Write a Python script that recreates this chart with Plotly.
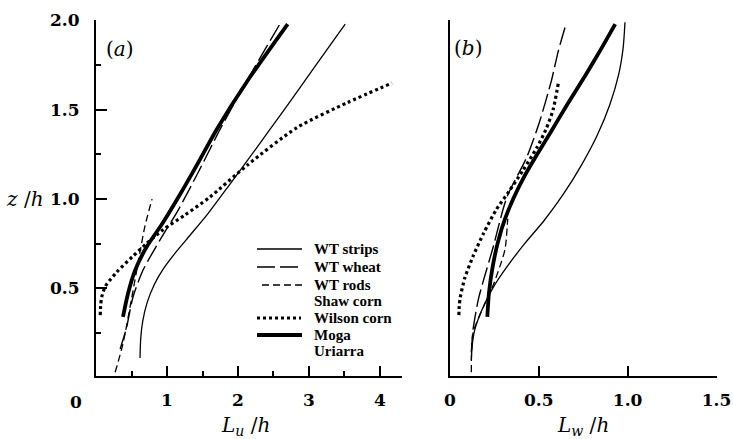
import plotly.graph_objects as go

W, H = 733, 439

# ---------------- data: panel (a)  L_u/h vs z/h ----------------
a_strips_x = [0.62, 0.63, 0.66, 0.72, 0.82, 0.95, 1.12, 1.33, 1.58, 1.88, 2.25, 2.65, 3.08, 3.51]
a_strips_y = [0.11, 0.22, 0.32, 0.42, 0.52, 0.61, 0.70, 0.80, 0.92, 1.08, 1.28, 1.50, 1.74, 1.98]
a_wheat_x = [0.34, 0.43, 0.52, 0.66, 0.90, 1.16, 1.44, 1.76, 2.15, 2.59]
a_wheat_y = [0.16, 0.28, 0.45, 0.60, 0.77, 0.94, 1.15, 1.40, 1.68, 1.98]
a_rods_x = [0.27, 0.38, 0.50, 0.60, 0.69, 0.79]
a_rods_y = [0.03, 0.19, 0.44, 0.66, 0.85, 1.00]
a_wilson_x = [0.06, 0.065, 0.08, 0.13, 0.29, 0.52, 0.71, 0.95, 1.25, 1.60, 2.13, 2.83, 3.54, 4.17]
a_wilson_y = [0.35, 0.40, 0.45, 0.51, 0.59, 0.68, 0.75, 0.83, 0.91, 1.01, 1.19, 1.40, 1.54, 1.65]
a_moga_x = [0.38, 0.45, 0.55, 0.71, 0.93, 1.16, 1.42, 1.70, 2.13, 2.70]
a_moga_y = [0.34, 0.47, 0.60, 0.73, 0.86, 1.01, 1.19, 1.39, 1.66, 1.98]

# ---------------- data: panel (b)  L_w/h vs z/h ----------------
b_strips_x = [0.12, 0.125, 0.14, 0.18, 0.24, 0.32, 0.42, 0.53, 0.64, 0.74, 0.83, 0.90, 0.95, 0.975, 0.985]
b_strips_y = [0.10, 0.18, 0.27, 0.38, 0.50, 0.62, 0.75, 0.88, 1.03, 1.19, 1.36, 1.53, 1.70, 1.85, 1.99]
b_wheat_x = [0.12, 0.13, 0.16, 0.19, 0.24, 0.32, 0.43, 0.50, 0.57, 0.61, 0.65]
b_wheat_y = [0.14, 0.27, 0.44, 0.55, 0.72, 1.01, 1.23, 1.42, 1.66, 1.83, 1.97]
b_rods_x = [0.12, 0.13, 0.19, 0.24, 0.28, 0.31, 0.325]
b_rods_y = [0.03, 0.25, 0.40, 0.51, 0.62, 0.72, 0.89]
b_wilson_x = [0.05, 0.052, 0.058, 0.084, 0.13, 0.19, 0.26, 0.33, 0.41, 0.49, 0.54, 0.58, 0.61]
b_wilson_y = [0.35, 0.40, 0.45, 0.56, 0.68, 0.81, 0.94, 1.04, 1.16, 1.29, 1.39, 1.50, 1.65]
b_moga_x = [0.21, 0.22, 0.24, 0.27, 0.31, 0.36, 0.42, 0.49, 0.57, 0.66, 0.76, 0.85, 0.93]
b_moga_y = [0.34, 0.48, 0.62, 0.76, 0.89, 1.01, 1.13, 1.25, 1.38, 1.53, 1.69, 1.84, 1.98]

# tick labels
a_xticks = [1, 2, 3, 4]
a_xticklabels = ["1", "2", "3", "4"]
a_xminor = [0.5, 1.5, 2.5, 3.5]
yticks = [0.5, 1.0, 1.5, 2.0]
yticklabels = ["0.5", "1.0", "1.5", "2.0"]
a_yminor = [0.25, 0.75, 1.25, 1.75]
b_xticks = [0, 0.5, 1.0, 1.5]
b_xticklabels = ["0", "0.5", "1.0", "1.5"]

legend_labels = ["WT strips", "WT wheat", "WT rods", "Shaw corn", "Wilson corn", "Moga", "Uriarra"]

# ---------------- styles ----------------
styles = {
    "strips": dict(color="black", width=1.3, dash="solid"),
    "wheat": dict(color="black", width=1.4, dash="18px,5px"),
    "rods": dict(color="black", width=1.3, dash="7px,4px"),
    "wilson": dict(color="black", width=3.2, dash="3px,3px"),
    "moga": dict(color="black", width=3.8, dash="solid"),
}

fig = go.Figure()

def add(x, y, style, xa, ya):
    fig.add_trace(go.Scatter(x=x, y=y, mode="lines", line=dict(shape="spline", smoothing=0.7, **styles[style]),
                             xaxis=xa, yaxis=ya, showlegend=False, hoverinfo="skip"))

add(a_strips_x, a_strips_y, "strips", "x", "y")
add(a_wheat_x, a_wheat_y, "wheat", "x", "y")
add(a_rods_x, a_rods_y, "rods", "x", "y")
add(a_wilson_x, a_wilson_y, "wilson", "x", "y")
add(a_moga_x, a_moga_y, "moga", "x", "y")

add(b_strips_x, b_strips_y, "strips", "x2", "y2")
add(b_wheat_x, b_wheat_y, "wheat", "x2", "y2")
add(b_rods_x, b_rods_y, "rods", "x2", "y2")
add(b_wilson_x, b_wilson_y, "wilson", "x2", "y2")
add(b_moga_x, b_moga_y, "moga", "x2", "y2")

def px(x):
    return x / W

def py(y):
    return 1 - y / H

tickfont = dict(family="DejaVu Serif", size=17, color="black", weight="bold")
common = dict(showgrid=False, zeroline=False, showline=True, linecolor="black", linewidth=2,
              automargin=False, ticks="inside", tickcolor="black", tickwidth=2, tickfont=tickfont)
minor_style = dict(ticks="inside", ticklen=5, tickwidth=1.6, tickcolor="black", showgrid=False)

fig.update_layout(
    template="none",
    width=W, height=H, margin=dict(l=0, r=0, t=0, b=0, pad=0), autosize=False,
    paper_bgcolor="white", plot_bgcolor="white", showlegend=False,
    xaxis=dict(domain=[px(96), px(402)], range=[0, 4.31], anchor="y", tickmode="array",
               tickvals=a_xticks, ticktext=a_xticklabels, ticklen=10, ticklabelstandoff=8,
               minor=dict(tickvals=a_xminor, **minor_style), **common),
    yaxis=dict(domain=[py(376), py(20)], range=[0.009, 2.003], anchor="x", tickmode="array",
               tickvals=yticks, ticktext=yticklabels, ticklen=11, ticklabelstandoff=11,
               minor=dict(tickvals=a_yminor, **minor_style), **common),
    xaxis2=dict(domain=[px(450), px(717)], range=[0, 1.503], anchor="y2", tickmode="array",
                tickvals=b_xticks, ticktext=b_xticklabels, ticklen=10, ticklabelstandoff=8, **common),
    yaxis2=dict(domain=[py(376), py(20)], range=[0.009, 2.003], anchor="x2", tickmode="array",
                tickvals=[2.0], ticklen=14, showticklabels=False, **common),
)

ann = []
italic = dict(family="DejaVu Serif", size=20, color="black")
ann.append(dict(x=px(76), y=py(402), text="<b>0</b>", font=tickfont))
ann.append(dict(x=px(245), y=py(426), text="<i>L<sub>u</sub></i> /<i>h</i>", font=italic))
ann.append(dict(x=px(583), y=py(426), text="<i>L<sub>w</sub></i> /<i>h</i>", font=italic))
ann.append(dict(x=px(25), y=py(199), text="<i>z</i> /<i>h</i>", font=italic))
ann.append(dict(x=px(120), y=py(49), text="(<i>a</i>)", font=italic))
ann.append(dict(x=px(468), y=py(48), text="(<i>b</i>)", font=italic))

legfont = dict(family="Liberation Serif", size=15, color="black", weight="bold")
rows = [249, 267, 285, 301, 318, 335, 351]
for lab, yy in zip(legend_labels, rows):
    ann.append(dict(x=px(312), y=py(yy), text=lab, font=legfont, xanchor="left"))

for a in ann:
    a.setdefault("xanchor", "center")
    a.update(xref="paper", yref="paper", yanchor="middle", showarrow=False)
fig.update_layout(annotations=ann)

# legend line samples
samples = [("strips", 249, 257, 302), ("wheat", 267, 257, 302), ("rods", 285, 262, 302),
           ("wilson", 318, 257, 301), ("moga", 335, 257, 302)]
for st, yy, x0, x1 in samples:
    s = styles[st]
    fig.add_shape(type="line", xref="paper", yref="paper", x0=px(x0), x1=px(x1), y0=py(yy), y1=py(yy),
                  line=dict(color=s["color"], width=s["width"], dash=s["dash"]))

fig.write_html("out.html")
